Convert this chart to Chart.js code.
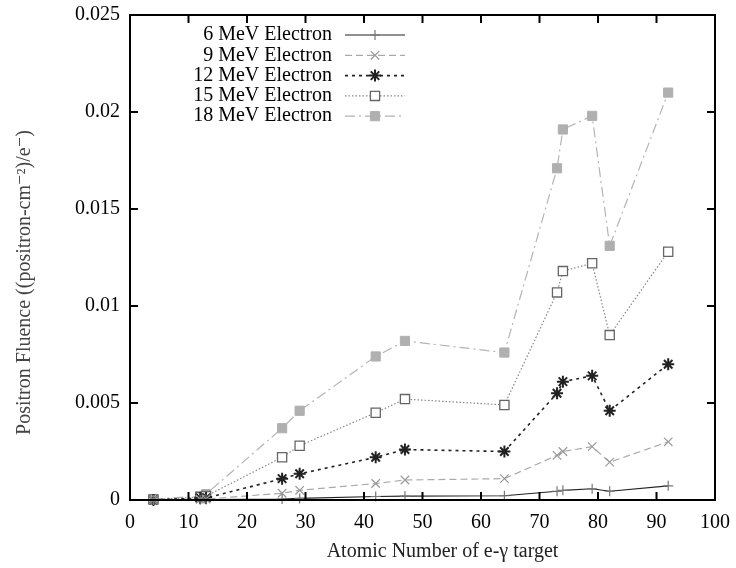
<!DOCTYPE html>
<html>
<head>
<meta charset="utf-8">
<script src="https://cdn.jsdelivr.net/npm/chart.js@4.4.1/dist/chart.umd.min.js"></script>
<style>
  html, body { margin: 0; padding: 0; background: #fff; }
  #wrap { width: 736px; height: 568px; }
</style>
</head>
<body>
<div id="wrap"><canvas id="chart" width="736" height="568"></canvas></div>
<script>
// atomic number of the target
const atomicNumbers = [4, 12, 13, 26, 29, 42, 47, 64, 73, 74, 79, 82, 92];

// positron fluence per series
const mev6  = [0, 0.00001, 0.00002, 0.00005, 0.00008, 0.00018, 0.0002, 0.00022, 0.00045, 0.0005, 0.00058, 0.00045, 0.00073];
const mev9  = [0, 0.00004, 0.00005, 0.00035, 0.0005, 0.00085, 0.00103, 0.0011, 0.0023, 0.0025, 0.00275, 0.00195, 0.003];
const mev12 = [0, 0.0001, 0.0001, 0.0011, 0.00135, 0.0022, 0.0026, 0.0025, 0.0055, 0.0061, 0.0064, 0.0046, 0.007];
const mev15 = [0.00003, 0.00015, 0.0002, 0.0022, 0.0028, 0.0045, 0.0052, 0.0049, 0.0107, 0.0118, 0.0122, 0.0085, 0.0128];
const mev18 = [0.00005, 0.0002, 0.0003, 0.0037, 0.0046, 0.0074, 0.0082, 0.0076, 0.0171, 0.0191, 0.0198, 0.0131, 0.021];

const seriesLabels = ['6 MeV Electron', '9 MeV Electron', '12 MeV Electron', '15 MeV Electron', '18 MeV Electron'];
const xTickLabels = ['0', '10', '20', '30', '40', '50', '60', '70', '80', '90', '100'];
const yTickLabels = ['0', '0.005', '0.01', '0.015', '0.02', '0.025'];

Chart.defaults.font.family = "'Liberation Serif', 'DejaVu Serif', serif";
Chart.defaults.font.size = 20;
Chart.defaults.color = '#000';

const pts = arr => arr.map((v, i) => ({ x: atomicNumbers[i], y: v }));

// border box + inward ticks on all four sides (gnuplot look)
const framePlugin = {
  id: 'frame',
  afterDatasetsDraw(chart) {
    const { ctx, chartArea: a, scales: { x, y } } = chart;
    ctx.save();
    ctx.strokeStyle = '#000';
    ctx.lineWidth = 2;
    ctx.beginPath();
    x.ticks.forEach(t => {
      const px = x.getPixelForValue(t.value);
      ctx.moveTo(px, a.bottom); ctx.lineTo(px, a.bottom - 8);
      ctx.moveTo(px, a.top); ctx.lineTo(px, a.top + 8);
    });
    y.ticks.forEach(t => {
      const py = y.getPixelForValue(t.value);
      ctx.moveTo(a.left, py); ctx.lineTo(a.left + 8, py);
      ctx.moveTo(a.right, py); ctx.lineTo(a.right - 8, py);
    });
    ctx.stroke();
    ctx.strokeRect(a.left, a.top, a.right - a.left, a.bottom - a.top);
    ctx.restore();
  }
};

// key in the upper left, text right aligned with the sample to its right
const keyPlugin = {
  id: 'key',
  afterDraw(chart) {
    const ctx = chart.ctx;
    const textRight = 332, lineL = 345, lineR = 405, top = 35, step = 20.3;
    ctx.save();
    chart.data.datasets.forEach((ds, i) => {
      const yy = top + i * step;
      ctx.font = "20px 'Liberation Serif'";
      ctx.fillStyle = '#000';
      ctx.textAlign = 'right';
      ctx.textBaseline = 'middle';
      ctx.fillText(ds.label, textRight, yy);
      ctx.strokeStyle = ds.borderColor;
      ctx.lineWidth = ds.borderWidth;
      ctx.setLineDash(ds.borderDash || []);
      ctx.beginPath();
      ctx.moveTo(lineL, yy); ctx.lineTo(lineR, yy);
      ctx.stroke();
      ctx.setLineDash([]);
      ctx.fillStyle = ds.pointBackgroundColor;
      ctx.strokeStyle = ds.pointBorderColor;
      ctx.lineWidth = ds.pointBorderWidth;
      Chart.helpers.drawPoint(ctx, {
        pointStyle: ds.pointStyle, radius: ds.pointRadius, rotation: 0, borderWidth: ds.pointBorderWidth
      }, (lineL + lineR) / 2, yy);
    });
    ctx.restore();
  }
};

const ctx = document.getElementById('chart');

new Chart(ctx, {
  type: 'line',
  data: {
    datasets: [{
      label: seriesLabels[0],
      data: pts(mev6),
      borderColor: '#222',
      borderWidth: 1.2,
      pointStyle: 'cross',
      pointRadius: 5,
      pointBorderWidth: 1.2,
      pointBorderColor: '#777',
      pointBackgroundColor: '#777'
    }, {
      label: seriesLabels[1],
      data: pts(mev9),
      borderColor: '#aaa',
      borderWidth: 1.2,
      borderDash: [7, 4],
      pointStyle: 'crossRot',
      pointRadius: 6,
      pointBorderWidth: 1.2,
      pointBorderColor: '#999',
      pointBackgroundColor: '#999'
    }, {
      label: seriesLabels[2],
      data: pts(mev12),
      borderColor: '#222',
      borderWidth: 1.6,
      borderDash: [3, 4],
      pointStyle: 'star',
      pointRadius: 6,
      pointBorderWidth: 2,
      pointBorderColor: '#222',
      pointBackgroundColor: '#222'
    }, {
      label: seriesLabels[3],
      data: pts(mev15),
      borderColor: '#888',
      borderWidth: 1.2,
      borderDash: [1.5, 2],
      pointStyle: 'rect',
      pointRadius: 6.5,
      pointBorderWidth: 1.3,
      pointBorderColor: '#666',
      pointBackgroundColor: '#fff'
    }, {
      label: seriesLabels[4],
      data: pts(mev18),
      borderColor: '#b4b4b4',
      borderWidth: 1.2,
      borderDash: [10, 4, 2, 4],
      pointStyle: 'rect',
      pointRadius: 6.5,
      pointBorderWidth: 1,
      pointBorderColor: '#b0b0b0',
      pointBackgroundColor: '#b0b0b0'
    }]
  },
  options: {
    responsive: false,
    animation: false,
    clip: false,
    layout: { padding: { top: 15, right: 21, left: 0, bottom: 0 } },
    plugins: {
      legend: { display: false },
      tooltip: { enabled: false }
    },
    scales: {
      x: {
        type: 'linear',
        min: 0, max: 100,
        grid: { display: false, drawTicks: false },
        border: { display: false },
        ticks: {
          stepSize: 10,
          padding: 11,
          maxRotation: 0,
          callback: (v, i) => xTickLabels[i]
        },
        title: {
          display: true,
          // leading em spaces nudge the centred title right, as in the original
          text: '\u2003\u2003Atomic Number of e-γ target',
          padding: { top: 0, bottom: 4 },
          color: '#222'
        },
        afterFit: s => { s.height = 68; s.paddingLeft = 0; s.paddingRight = 0; }
      },
      y: {
        min: 0, max: 0.025,
        grid: { display: false, drawTicks: false },
        border: { display: false },
        ticks: {
          stepSize: 0.005,
          padding: 10,
          callback: (v, i) => yTickLabels[i]
        },
        title: {
          display: true,
          // trailing spaces push the rotated title down towards the canvas middle
          text: 'Positron Fluence ((positron-cm⁻²)/e⁻)\u2003\u2003\u2002',
          padding: { top: 13, bottom: 0 },
          color: '#444'
        },
        afterFit: s => { s.width = 130; s.paddingTop = 0; s.paddingBottom = 0; }
      }
    }
  },
  plugins: [framePlugin, keyPlugin]
});
</script>
</body>
</html>
